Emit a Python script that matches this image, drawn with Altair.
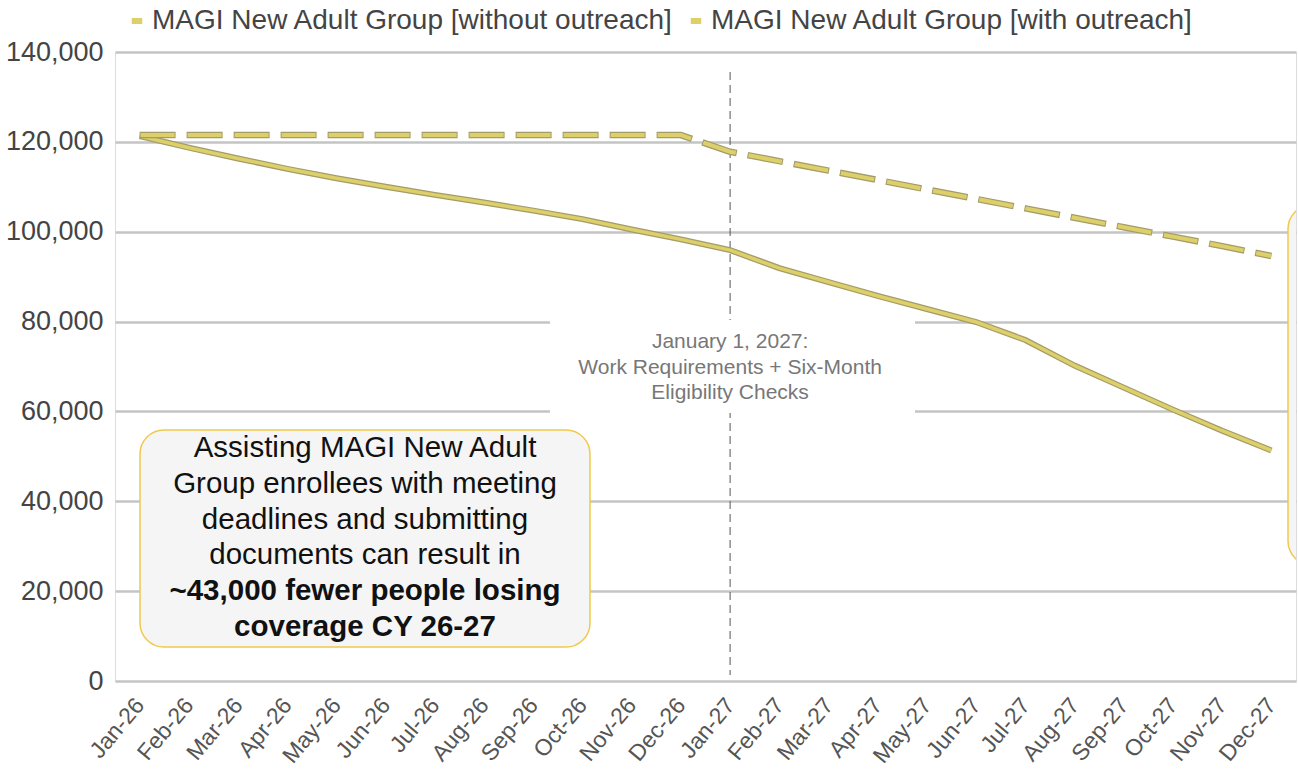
import altair as alt
import pandas as pd

# Monthly enrollment projections, calendar years 2026-2027
months = [
    "Jan-26", "Feb-26", "Mar-26", "Apr-26", "May-26", "Jun-26",
    "Jul-26", "Aug-26", "Sep-26", "Oct-26", "Nov-26", "Dec-26",
    "Jan-27", "Feb-27", "Mar-27", "Apr-27", "May-27", "Jun-27",
    "Jul-27", "Aug-27", "Sep-27", "Oct-27", "Nov-27", "Dec-27",
]
without_outreach = [
    121300, 118700, 116300, 114000, 111900, 110000,
    108200, 106500, 104700, 102800, 100500, 98300,
    95900, 91900, 88800, 85700, 82800, 79900,
    75900, 70200, 65300, 60400, 55700, 51300,
]
with_outreach = [
    121500, 121500, 121500, 121500, 121500, 121500,
    121500, 121500, 121500, 121500, 121500, 121500,
    117800, 115700, 113600, 111500, 109400, 107300,
    105200, 103100, 101000, 98900, 96800, 94600,
]
series_names = [
    "MAGI New Adult Group [without outreach]",
    "MAGI New Adult Group [with outreach]",
]
y_ticks = [0, 20000, 40000, 60000, 80000, 100000, 120000, 140000]
policy_month = "Jan-27"

df = pd.DataFrame({
    "month": months + months,
    "series": [series_names[0]] * len(months) + [series_names[1]] * len(months),
    "value": without_outreach + with_outreach,
})
# single row so each annotation is drawn exactly once
one = pd.DataFrame({"k": [0]})

FONT = "Liberation Sans"
LINE_FILL = "#ddcf6a"
LINE_EDGE = "#a39c68"

x_enc = alt.X(
    "month:O",
    sort=months,
    scale=alt.Scale(type="point", padding=0.5),
    axis=alt.Axis(
        title=None, labelAngle=-50, labelFontSize=23, labelColor="#555555",
        labelFont=FONT, ticks=False, domain=False, grid=False, labelPadding=20,
    ),
)
y_enc = alt.Y(
    "value:Q",
    scale=alt.Scale(domain=[0, 140000], nice=False),
    axis=alt.Axis(
        title=None, values=y_ticks, format=",.0f", labelFontSize=27,
        labelColor="#444444", labelFont=FONT, ticks=False, domain=False,
        gridColor="#c4c4c4", gridWidth=2.5, labelPadding=12,
    ),
)

base = alt.Chart(df)

# Vertical marker for the policy start date
policy_rule = alt.Chart(one).mark_rule(
    color="#555555", strokeWidth=1, strokeDash=[8, 5]
).encode(
    x=alt.datum(policy_month),
    y=alt.value(20),
    y2=alt.value(623),
)

# White label panel over the marker
policy_panel = alt.Chart(one).mark_rect(color="white").encode(
    x=alt.value(435), x2=alt.value(800),
    y=alt.value(268), y2=alt.value(361),
)
policy_text = alt.Chart(one).mark_text(
    font=FONT, fontSize=21, color="#777777", lineHeight=25.5,
    align="center", baseline="middle",
).encode(
    x=alt.datum(policy_month),
    y=alt.value(290),
    text=alt.value(["January 1, 2027:", "Work Requirements + Six-Month", "Eligibility Checks"]),
)

# Callout boxes
callout_box = alt.Chart(one).mark_rect(
    fill="#f5f5f5", stroke="#f0c94c", strokeWidth=1.5, cornerRadius=24,
).encode(
    x=alt.value(25), x2=alt.value(475),
    y=alt.value(378), y2=alt.value(595),
)
callout_text = alt.Chart(one).mark_text(
    font=FONT, fontSize=29.5, color="#111111", lineHeight=35.8,
    align="center", baseline="middle",
).encode(
    x=alt.value(250),
    y=alt.value(396),
    text=alt.value([
        "Assisting MAGI New Adult",
        "Group enrollees with meeting",
        "deadlines and submitting",
        "documents can result in",
    ]),
)
callout_bold = alt.Chart(one).mark_text(
    font=FONT, fontSize=29.5, fontWeight="bold", color="#111111", lineHeight=35.8,
    align="center", baseline="middle",
).encode(
    x=alt.value(250),
    y=alt.value(539),
    text=alt.value(["~43,000 fewer people losing", "coverage CY 26-27"]),
)
side_box = alt.Chart(one).mark_rect(
    fill="#f5f5f5", stroke="#f0c94c", strokeWidth=1.5, cornerRadius=24, clip=True,
).encode(
    x=alt.value(1173), x2=alt.value(1420),
    y=alt.value(153), y2=alt.value(513),
)

color_enc = alt.Color(
    "series:N",
    scale=alt.Scale(domain=series_names, range=[LINE_FILL, LINE_FILL]),
    legend=alt.Legend(
        orient="none", legendX=8, legendY=-45, direction="horizontal",
        title=None, labelFontSize=28, labelColor="#444444", labelFont=FONT,
        symbolType="stroke", symbolStrokeWidth=6, symbolSize=110,
        labelLimit=800, columnPadding=4, labelOffset=1,
    ),
)

solid = base.transform_filter(alt.datum.series == series_names[0])
dashed = base.transform_filter(alt.datum.series == series_names[1])

solid_edge = solid.mark_line(color=LINE_EDGE, strokeWidth=6).encode(x=x_enc, y=y_enc)
solid_fill = solid.mark_line(strokeWidth=3.5).encode(x=x_enc, y=y_enc, color=color_enc)
dashed_edge = dashed.mark_line(
    color=LINE_EDGE, strokeWidth=6.5, strokeDash=[36, 11]
).encode(x=x_enc, y=y_enc)
dashed_fill = dashed.mark_line(
    strokeWidth=4, strokeDash=[34, 13], strokeDashOffset=-1
).encode(x=x_enc, y=y_enc, color=color_enc)

chart = alt.layer(
    policy_rule, policy_panel, policy_text,
    callout_box, callout_text, callout_bold, side_box,
    solid_edge, solid_fill, dashed_edge, dashed_fill,
).properties(
    width=1181, height=629,
    autosize=alt.AutoSizeParams(type="none"),
    padding={"left": 115, "top": 52, "right": 2, "bottom": 98},
).configure_view(stroke=None).configure(font=FONT)

chart.save("out.html", embed_options={"renderer": "svg", "actions": False})
